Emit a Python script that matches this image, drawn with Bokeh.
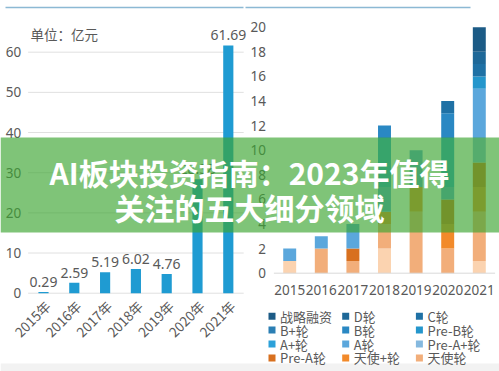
import math
from bokeh.plotting import figure
from bokeh.models import Range1d, ColumnDataSource, BoxAnnotation, Label
from bokeh.core.properties import value
from bokeh.embed import file_html
from bokeh.resources import INLINE

# ---------------- data ----------------
left_years = ["2015年", "2016年", "2017年", "2018年", "2019年", "2020年", "2021年"]
left_values = [0.29, 2.59, 5.19, 6.02, 4.76, 28.38, 61.69]
left_ticks = [0, 10, 20, 30, 40, 50, 60]

right_years = ["2015", "2016", "2017", "2018", "2019", "2020", "2021"]
right_ticks = [0, 2, 4, 6, 8, 10, 12, 14, 16, 18, 20]

seed_round = [1, 0, 0, 2, 0, 0, 1]      # 种子轮 (its legend row is cropped in the source)
angel = [0, 2, 1, 2, 5, 2, 4]
angel_plus = [0, 0, 0, 1, 2, 2, 2]
pre_a = [0, 0, 1, 0, 0, 2, 2]
pre_a_plus = [0, 0, 0, 0, 0, 0, 2]
round_a = [1, 1, 2, 2, 3, 1, 4]
round_a_plus = [0, 0, 0, 4, 0, 4, 0]
pre_b = [0, 0, 0, 0, 0, 0, 1]
round_b = [0, 0, 0, 1, 0, 2, 0]
round_b_plus = [0, 0, 0, 0, 0, 0, 0]
round_c = [0, 0, 0, 0, 0, 1, 1]
round_d = [0, 0, 0, 0, 0, 0, 1]
strategic = [0, 0, 0, 0, 0, 0, 2]

legend_names = ["战略融资", "D轮", "C轮", "B+轮", "B轮", "Pre-B轮",
                "A+轮", "A轮", "Pre-A+轮", "Pre-A轮", "天使+轮", "天使轮"]

stack_names = ["种子轮", "天使轮", "天使+轮", "Pre-A轮", "Pre-A+轮", "A轮", "A+轮",
               "Pre-B轮", "B轮", "B+轮", "C轮", "D轮", "战略融资"]
stack_values = [seed_round, angel, angel_plus, pre_a, pre_a_plus, round_a, round_a_plus,
                pre_b, round_b, round_b_plus, round_c, round_d, strategic]
stack_colors = ["#fbd3b0", "#f2ae7a", "#f28a2a", "#d8701f", "#85b9df", "#5ba7dc", "#2ca1d9",
                "#2496cc", "#2a88c3", "#2b7fb4", "#1f71a5", "#1e6898", "#1c5b86"]

banner_line1 = "AI板块投资指南：2023年值得"
banner_line2 = "关注的五大细分领域"
unit_text = "单位：亿元"

# ---------------- figure ----------------
W, H = 499, 371
p = figure(width=W, height=H, x_range=Range1d(0, 499), y_range=Range1d(371, 0),
           output_backend="svg", toolbar_location=None, min_border=0,
           x_axis_type=None, y_axis_type=None)
p.outline_line_color = None
p.background_fill_color = "white"
p.border_fill_color = "white"

p.extra_x_ranges = {
    "Lx": Range1d(-43 / 30.8, (499 - 43) / 30.8),
    "Rx": Range1d(-289.2 / 31.6, (499 - 289.2) / 31.6),
}
p.extra_y_ranges = {
    "Ly": Range1d((292.7 - 371) / 4.017, 292.7 / 4.017),
    "Ry": Range1d((272.7 - 371) / 12.3, 272.7 / 12.3),
}

grey = "#595959"
cjk = value("Noto Sans CJK SC")
num = value("Noto Sans")

# bottom grey band and top rules
p.add_layout(BoxAnnotation(top=363, bottom=371, fill_color="#f2f2f2", fill_alpha=1,
                           line_alpha=0, level="underlay"))
p.segment(x0=[5, 245], x1=[243, 470], y0=[7, 7], y1=[7, 7], line_color="#8cb9d4", line_width=1.5)

# ---------------- left chart ----------------
nL = len(left_years)
lidx = list(range(nL))
p.segment(x0=[-0.5] * len(left_ticks), x1=[nL - 0.5] * len(left_ticks), y0=left_ticks, y1=left_ticks,
          line_color="#e0e0e0", line_width=1, x_range_name="Lx", y_range_name="Ly")
p.text(x=[-0.5] * len(left_ticks), y=left_ticks, text=[str(t) for t in left_ticks],
       x_offset=-7, text_align="right", text_baseline="middle", text_font=num,
       text_font_size="13.5px", text_color=grey, x_range_name="Lx", y_range_name="Ly")
p.vbar(x=lidx, top=left_values, width=0.33, fill_color="#1f9bd2", line_color=None,
       x_range_name="Lx", y_range_name="Ly")
p.text(x=lidx, y=left_values, text=[f"{v:.2f}" for v in left_values], y_offset=-5,
       text_align="center", text_baseline="bottom", text_font=num, text_font_size="14px",
       text_color=grey, x_range_name="Lx", y_range_name="Ly")
p.text(x=lidx, y=[0] * nL, text=left_years, angle=math.pi / 4, x_offset=4, y_offset=10,
       text_align="right", text_baseline="middle", text_font=cjk, text_font_size="13.5px",
       text_color=grey, x_range_name="Lx", y_range_name="Ly")
p.add_layout(Label(x=30, y=33, text=unit_text, text_align="left", text_baseline="middle",
                   text_font="Noto Sans CJK SC", text_font_size="13.5px", text_color=grey))

# ---------------- right chart ----------------
nR = len(right_years)
ridx = list(range(nR))
src = {"x": ridx}
for name, vals in zip(stack_names, stack_values):
    src[name] = vals
source = ColumnDataSource(src)
p.vbar_stack(stack_names, x="x", width=0.41, color=stack_colors, line_color=None,
             source=source, x_range_name="Rx", y_range_name="Ry")
p.segment(x0=[-0.5], x1=[nR - 0.5], y0=[0], y1=[0], line_color="#d9d9d9", line_width=1,
          x_range_name="Rx", y_range_name="Ry")
p.text(x=[-0.5] * len(right_ticks), y=right_ticks, text=[str(t) for t in right_ticks],
       x_offset=-8, text_align="right", text_baseline="middle", text_font=num,
       text_font_size="13.5px", text_color=grey, x_range_name="Rx", y_range_name="Ry")
p.text(x=ridx, y=[0] * nR, text=right_years, y_offset=17, text_align="center",
       text_baseline="middle", text_font=num, text_font_size="13.5px", text_color=grey,
       x_range_name="Rx", y_range_name="Ry")

# legend (3 columns, row-major), laid out in page pixels
color_of = dict(zip(stack_names, stack_colors))
lg_x0, lg_y0, lg_dx, lg_dy = 271.5, 315.7, 73.7, 13.9
lg_sx = [lg_x0 + (i % 3) * lg_dx for i in range(len(legend_names))]
lg_sy = [lg_y0 + (i // 3) * lg_dy for i in range(len(legend_names))]
p.scatter(x=lg_sx, y=lg_sy, marker="square", size=7, line_color=None,
          fill_color=[color_of[n] for n in legend_names])
p.text(x=[x + 8 for x in lg_sx], y=lg_sy, text=legend_names, text_align="left",
       text_baseline="middle", text_font=cjk, text_font_size="13px", text_color=grey)

# ---------------- banner ----------------
p.add_layout(BoxAnnotation(top=137, bottom=232, fill_color=(60, 165, 50), fill_alpha=0.66,
                           line_alpha=0))
for txt, yy in [(banner_line1, 171), (banner_line2, 206)]:
    p.add_layout(Label(x=249, y=yy, text=txt, text_align="center", text_baseline="middle",
                       text_font="Noto Sans CJK SC", text_font_style="bold",
                       text_font_size="30px", text_color="white"))

open("out.html", "w").write(file_html(p, INLINE))
